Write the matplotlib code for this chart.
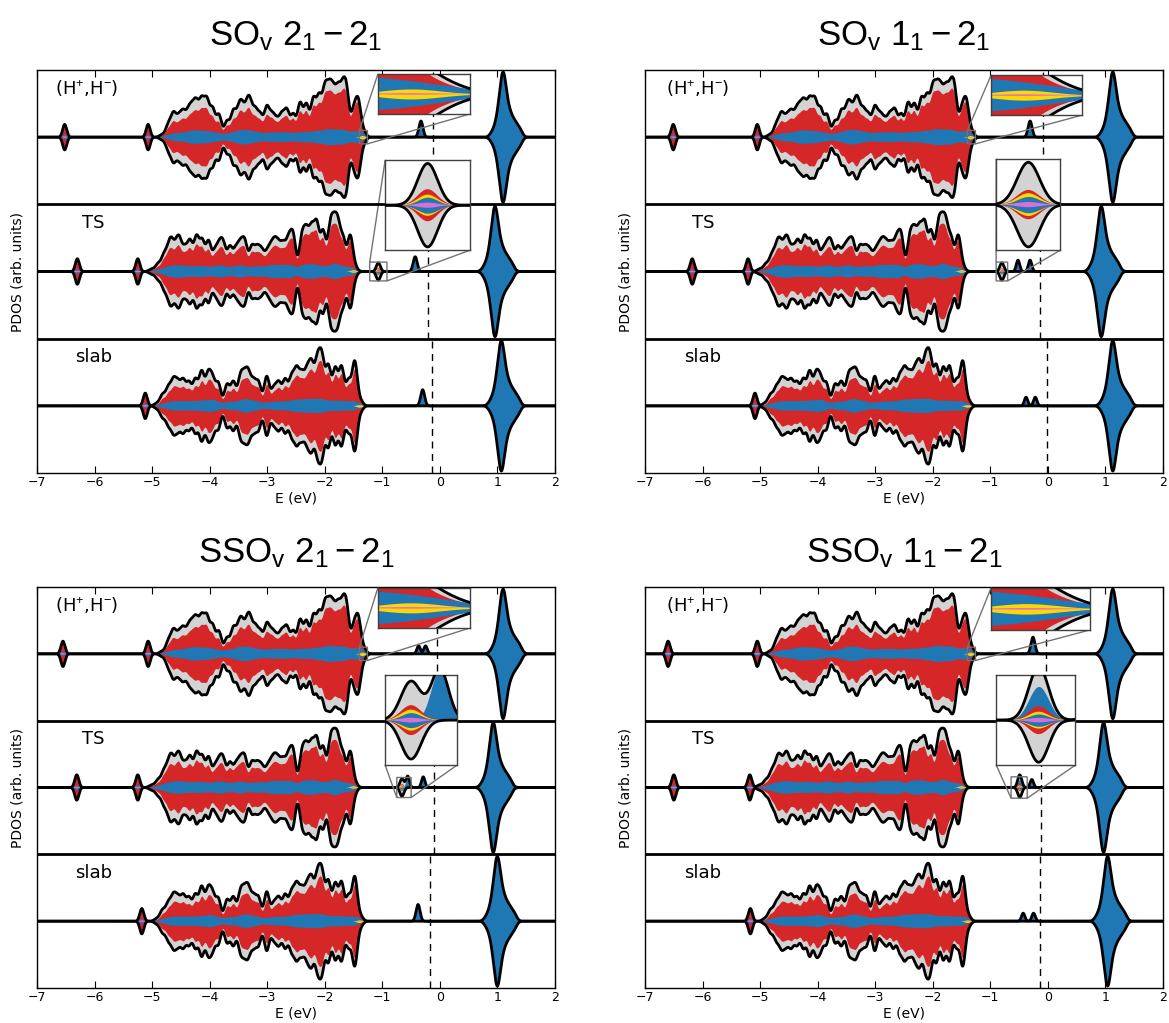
# PDOS comparison, SO_v / SSO_v, (H+,H-) vs TS vs slab
import numpy as np
import matplotlib.pyplot as plt

plt.rcParams['mathtext.fontset'] = 'custom'
plt.rcParams['mathtext.rm'] = 'Liberation Sans'
plt.rcParams['mathtext.it'] = 'Liberation Sans:italic'
plt.rcParams['mathtext.bf'] = 'Liberation Sans:bold'

# ---------------- data ----------------
titles = [r'SO$_\mathrm{v}$ $2_1-2_1$', r'SO$_\mathrm{v}$ $1_1-2_1$',
          r'SSO$_\mathrm{v}$ $2_1-2_1$', r'SSO$_\mathrm{v}$ $1_1-2_1$']
row_labels = [r'(H$^{+}$,H$^{-}$)', 'TS', 'slab']
row_label_x = [[-6.69, -6.22, -6.34], [-6.64, -6.18, -6.32],
               [-6.69, -6.22, -6.34], [-6.64, -6.18, -6.32]]

# valence band: level energies (eV) and weights, one list per row (H, TS, slab)
band_E = [
    [-4.83, -4.72, -4.63, -4.54, -4.46, -4.37, -4.30, -4.23, -4.14, -4.05,
     -3.95, -3.84, -3.70, -3.59, -3.50, -3.44, -3.36, -3.30, -3.21, -3.12,
     -3.01, -2.92, -2.84, -2.75, -2.66, -2.55, -2.43, -2.32, -2.20, -2.10,
     -2.00, -1.92, -1.85, -1.77, -1.69, -1.62, -1.50, -1.42, -1.33],
    [-5.01, -4.90, -4.80, -4.72, -4.66, -4.58, -4.52, -4.43, -4.34, -4.23,
     -4.13, -4.02, -3.91, -3.83, -3.76, -3.65, -3.55, -3.47, -3.39, -3.27,
     -3.18, -3.10, -3.01, -2.94, -2.87, -2.80, -2.72, -2.63, -2.55, -2.40,
     -2.32, -2.23, -2.14, -2.03, -1.91, -1.84, -1.77, -1.68, -1.56, -1.48],
    [-4.92, -4.82, -4.72, -4.63, -4.55, -4.46, -4.36, -4.25, -4.14, -4.03,
     -3.95, -3.85, -3.70, -3.59, -3.47, -3.40, -3.33, -3.24, -3.15, -3.01,
     -2.89, -2.80, -2.69, -2.58, -2.49, -2.40, -2.31, -2.23, -2.13, -2.05,
     -1.94, -1.82, -1.71, -1.59, -1.48, -1.38],
]
band_grey = [
    [0.05, 0.25, 0.45, 0.35, 0.45, 0.45, 0.45, 0.58, 0.68, 0.70,
     0.55, 0.45, 0.32, 0.50, 0.42, 0.50, 0.45, 0.58, 0.50, 0.42,
     0.58, 0.40, 0.30, 0.42, 0.52, 0.45, 0.68, 0.65, 0.75, 0.78,
     0.90, 0.80, 0.72, 0.82, 0.80, 0.84, 0.50, 0.70, 0.12],
    [0.05, 0.15, 0.30, 0.35, 0.48, 0.40, 0.50, 0.42, 0.58, 0.68,
     0.60, 0.60, 0.38, 0.45, 0.48, 0.48, 0.40, 0.48, 0.57, 0.48,
     0.42, 0.38, 0.30, 0.38, 0.48, 0.42, 0.48, 0.58, 0.70, 0.66,
     0.73, 0.80, 0.92, 0.80, 0.80, 0.75, 0.82, 0.62, 0.72, 0.10],
    [0.05, 0.22, 0.35, 0.47, 0.40, 0.48, 0.45, 0.52, 0.68, 0.60,
     0.50, 0.45, 0.43, 0.48, 0.52, 0.45, 0.58, 0.45, 0.45, 0.60,
     0.34, 0.45, 0.52, 0.55, 0.68, 0.58, 0.62, 0.77, 0.85, 0.92,
     0.80, 0.75, 0.78, 0.50, 0.90, 0.10],
]
band_red = [
    [0.03, 0.15, 0.28, 0.22, 0.30, 0.30, 0.30, 0.40, 0.48, 0.50,
     0.38, 0.30, 0.22, 0.32, 0.30, 0.35, 0.32, 0.40, 0.35, 0.30,
     0.40, 0.30, 0.22, 0.30, 0.38, 0.35, 0.50, 0.50, 0.58, 0.60,
     0.72, 0.64, 0.58, 0.66, 0.64, 0.68, 0.42, 0.60, 0.08],
    [0.03, 0.08, 0.20, 0.25, 0.32, 0.28, 0.36, 0.30, 0.42, 0.50,
     0.45, 0.42, 0.28, 0.32, 0.35, 0.36, 0.30, 0.35, 0.42, 0.35,
     0.30, 0.28, 0.22, 0.28, 0.35, 0.32, 0.36, 0.45, 0.55, 0.52,
     0.58, 0.64, 0.72, 0.64, 0.64, 0.60, 0.66, 0.52, 0.60, 0.07],
    [0.03, 0.14, 0.24, 0.32, 0.28, 0.34, 0.32, 0.38, 0.48, 0.44,
     0.36, 0.32, 0.30, 0.34, 0.38, 0.33, 0.42, 0.33, 0.33, 0.44,
     0.25, 0.33, 0.38, 0.42, 0.52, 0.45, 0.48, 0.60, 0.66, 0.72,
     0.64, 0.60, 0.62, 0.40, 0.74, 0.07],
]
band_blue = [
    [0.01, 0.05, 0.08, 0.08, 0.09, 0.10, 0.11, 0.12, 0.13, 0.13,
     0.12, 0.11, 0.10, 0.11, 0.11, 0.12, 0.11, 0.12, 0.11, 0.10,
     0.10, 0.09, 0.09, 0.10, 0.11, 0.11, 0.13, 0.13, 0.14, 0.14,
     0.15, 0.14, 0.13, 0.13, 0.13, 0.13, 0.12, 0.12, 0.09],
    [0.01, 0.04, 0.07, 0.08, 0.09, 0.10, 0.11, 0.11, 0.12, 0.13,
     0.13, 0.12, 0.11, 0.11, 0.11, 0.11, 0.10, 0.11, 0.12, 0.11,
     0.10, 0.10, 0.09, 0.10, 0.11, 0.11, 0.12, 0.13, 0.14, 0.14,
     0.14, 0.15, 0.15, 0.14, 0.13, 0.13, 0.13, 0.12, 0.12, 0.05],
    [0.01, 0.05, 0.08, 0.09, 0.09, 0.10, 0.11, 0.12, 0.13, 0.13,
     0.12, 0.11, 0.10, 0.11, 0.11, 0.11, 0.12, 0.11, 0.10, 0.10,
     0.09, 0.10, 0.11, 0.12, 0.13, 0.13, 0.13, 0.14, 0.14, 0.15,
     0.14, 0.13, 0.13, 0.12, 0.12, 0.05],
]
# small H-like contributions at the top of the band (seen in the zoom)
tail_E = [-1.35, -1.50, -1.40]
tail_yellow = [0.025, 0.02, 0.02]
tail_pink = [0.004, 0.004, 0.004]

# conduction band peak shape (offset from centre, weight)
cb_offsets = [-0.18, -0.10, -0.04, 0.0, 0.05, 0.12, 0.20, 0.28]
cb_heights = [0.07, 0.18, 0.30, 0.55, 0.27, 0.24, 0.16, 0.11]
cb_center = [[1.10, 0.96, 1.07], [1.13, 0.93, 1.13],
             [1.10, 0.93, 1.00], [1.13, 0.97, 1.04]]

# Fermi level per row (dashed)
e_fermi = [[-0.12, -0.20, -0.13], [-0.09, -0.14, -0.02],
           [-0.05, -0.10, -0.17], [-0.03, -0.12, -0.14]]

# localized states: row, E, width, grey, blue_o, red, blue, yellow, blue_in, pink, both spins
peaks_sov_21 = [
    (0, -6.52, .035, .19, 0, .175, .035, 0, 0, .012, 1),
    (0, -5.07, .035, .19, 0, .175, .035, 0, 0, .012, 1),
    (0, -0.33, .035, .24, 0, 0, .24, 0, 0, 0, 0),
    (1, -6.30, .035, .19, 0, .175, .035, 0, 0, .012, 1),
    (1, -5.25, .035, .19, 0, .175, .035, 0, 0, .012, 1),
    (1, -1.07, .035, .13, 0, .05, 0, .033, .025, .008, 1),
    (1, -0.43, .035, .22, 0, 0, .22, 0, 0, 0, 0),
    (2, -5.12, .035, .19, 0, .175, .035, 0, 0, .012, 1),
    (2, -0.30, .035, .24, 0, 0, .24, 0, 0, 0, 0),
]
peaks_sov_11 = [
    (0, -6.51, .035, .19, 0, .175, .035, 0, 0, .012, 1),
    (0, -5.05, .035, .19, 0, .175, .035, 0, 0, .012, 1),
    (0, -0.31, .035, .24, 0, 0, .24, 0, 0, 0, 0),
    (1, -6.18, .035, .19, 0, .175, .035, 0, 0, .012, 1),
    (1, -5.21, .035, .19, 0, .175, .035, 0, 0, .012, 1),
    (1, -0.80, .035, .13, 0, .045, 0, .035, .025, .008, 1),
    (1, -0.52, .03, .17, 0, 0, .17, 0, 0, 0, 0),
    (1, -0.31, .03, .17, 0, 0, .17, 0, 0, 0, 0),
    (2, -5.09, .035, .19, 0, .175, .035, 0, 0, .012, 1),
    (2, -0.38, .03, .13, 0, 0, .13, 0, 0, 0, 0),
    (2, -0.22, .03, .13, 0, 0, .13, 0, 0, 0, 0),
]
peaks_ssov_21 = [
    (0, -6.55, .035, .19, 0, .175, .035, 0, 0, .012, 1),
    (0, -5.07, .035, .19, 0, .175, .035, 0, 0, .012, 1),
    (0, -0.37, .03, .12, 0, 0, .12, 0, 0, 0, 0),
    (0, -0.25, .03, .12, 0, 0, .12, 0, 0, 0, 0),
    (1, -6.31, .035, .19, 0, .175, .035, 0, 0, .012, 1),
    (1, -5.25, .035, .19, 0, .175, .035, 0, 0, .012, 1),
    (1, -0.66, .035, .13, 0, .05, 0, .035, .025, .008, 1),
    (1, -0.56, .03, .17, .17, 0, 0, 0, 0, 0, 0),
    (1, -0.29, .03, .16, 0, 0, .16, 0, 0, 0, 0),
    (2, -5.18, .035, .19, 0, .175, .035, 0, 0, .012, 1),
    (2, -0.38, .035, .25, 0, 0, .25, 0, 0, 0, 0),
]
peaks_ssov_11 = [
    (0, -6.60, .035, .19, 0, .175, .035, 0, 0, .012, 1),
    (0, -5.05, .035, .19, 0, .175, .035, 0, 0, .012, 1),
    (0, -0.26, .035, .25, 0, 0, .25, 0, 0, 0, 0),
    (1, -6.50, .035, .19, 0, .175, .035, 0, 0, .012, 1),
    (1, -5.18, .035, .19, 0, .175, .035, 0, 0, .012, 1),
    (1, -0.49, .035, .15, 0, .05, 0, .03, .022, .008, 1),
    (1, -0.49, .035, .04, .12, 0, 0, 0, 0, 0, 0),
    (1, -0.28, .03, .12, 0, 0, .12, 0, 0, 0, 0),
    (2, -5.17, .035, .19, 0, .175, .035, 0, 0, .012, 1),
    (2, -0.43, .03, .12, 0, 0, .12, 0, 0, 0, 0),
    (2, -0.25, .03, .12, 0, 0, .12, 0, 0, 0, 0),
]
panel_peaks = [peaks_sov_21, peaks_sov_11, peaks_ssov_21, peaks_ssov_11]

# inset zoom windows (E range of the two zooms) and their placement in the axes
inset1_xlim = [(-1.40, -1.26)] * 4
inset2_xlim = [(-1.22, -0.92), (-0.90, -0.70), (-0.75, -0.50), (-0.64, -0.36)]
inset2_half = [0.14, 0.14, 0.15, 0.16]
inset1_box = [[0.658, 0.891, 0.178, 0.099], [0.668, 0.888, 0.176, 0.099],
              [0.658, 0.898, 0.178, 0.100], [0.668, 0.893, 0.191, 0.105]]
inset2_box = [[0.672, 0.553, 0.164, 0.223], [0.678, 0.553, 0.124, 0.226],
              [0.672, 0.556, 0.139, 0.224], [0.678, 0.556, 0.153, 0.224]]

# ---------------- drawing helpers ----------------
energy = np.linspace(-7, 2, 4500)
layers = ['grey', 'blue_o', 'red', 'blue', 'yellow', 'blue_in', 'pink']
layer_colors = ['lightgrey', '#1f77b4', '#d62728', '#1f77b4', 'gold', '#1f77b4', 'orchid']
band_width = 0.045
band_scale = 0.72
blue_width = 0.07
blue_scale = 0.38
cb_width = 0.05
row_centers = [2, 0, -2]


def gauss(center, height, width):
    return height * np.exp(-0.5 * ((energy - center) / width) ** 2)


def row_curves(p, r):
    up = {k: np.zeros_like(energy) for k in layers}
    dn = {k: np.zeros_like(energy) for k in layers}
    for e, g, rd, b in zip(band_E[r], band_grey[r], band_red[r], band_blue[r]):
        for d in (up, dn):
            d['grey'] += band_scale * gauss(e, g, band_width)
            d['red'] += band_scale * gauss(e, rd, band_width)
            d['blue'] += blue_scale * gauss(e, b, blue_width)
    for d in (up, dn):
        d['yellow'] += gauss(tail_E[r], tail_yellow[r], band_width)
        d['pink'] += gauss(tail_E[r], tail_pink[r], band_width)
        for off, h in zip(cb_offsets, cb_heights):
            d['grey'] += gauss(cb_center[p][r] + off, h, cb_width)
            d['blue'] += gauss(cb_center[p][r] + off, h, cb_width)
    for pk in panel_peaks[p]:
        if pk[0] != r:
            continue
        e, w = pk[1], pk[2]
        vals = pk[3:10]
        targets = (up, dn) if pk[10] else (up,)
        for d in targets:
            for k, v in zip(layers, vals):
                if v:
                    d[k] += gauss(e, v, w)
    return up, dn


def draw_panel(ax, p, curves):
    for r, yc in enumerate(row_centers):
        up, dn = curves[r]
        for k, c in zip(layers, layer_colors):
            m = (up[k] + dn[k]) > 1e-4
            if m.any():
                ax.fill_between(energy, yc - dn[k], yc + up[k], where=m,
                                color=c, lw=0, zorder=2)
        ax.plot(energy, yc + up['grey'], color='k', lw=2, zorder=3)
        ax.plot(energy, yc - dn['grey'], color='k', lw=2, zorder=3)
        ax.plot([e_fermi[p][r]] * 2, [yc - 1, yc + 1], color='k', lw=1,
                ls=(0, (5, 4)), zorder=4)
    for ys in (1, -1):
        ax.axhline(ys, color='k', lw=2, zorder=5)


# ---------------- figure ----------------
fig = plt.figure(figsize=(11.69, 10.23), dpi=100)
axes_pos = [[0.0317, 0.5376, 0.4431, 0.394], [0.5518, 0.5376, 0.4431, 0.394],
            [0.0317, 0.0342, 0.4431, 0.392], [0.5518, 0.0342, 0.4431, 0.392]]

for p in range(4):
    ax = fig.add_axes(axes_pos[p])
    curves = [row_curves(p, r) for r in range(3)]
    draw_panel(ax, p, curves)
    ax.set_xlim(-7, 2)
    ax.set_ylim(-3, 3)
    ax.set_xticks(range(-7, 3))
    ax.set_yticks([])
    ax.tick_params(direction='in', top=True, length=5, labelsize=9, pad=2)
    for s in ax.spines.values():
        s.set_linewidth(1)
    ax.set_xlabel('E (eV)', fontsize=10, labelpad=2)
    ax.set_ylabel('PDOS (arb. units)', fontsize=10, labelpad=9)
    ax.set_title(titles[p], fontsize=25, pad=18, family='Liberation Sans')
    for r, yc in enumerate(row_centers):
        ax.text(row_label_x[p][r], yc + 0.72, row_labels[r], fontsize=13,
                va='center', ha='left', zorder=6)

    # zoom on top of the valence band (H row)
    ins1 = ax.inset_axes(inset1_box[p])
    draw_panel(ins1, p, curves)
    ins1.set_xlim(*inset1_xlim[p])
    ins1.set_ylim(2 - 0.1, 2 + 0.1)
    # zoom on the gap state (TS row)
    ins2 = ax.inset_axes(inset2_box[p])
    draw_panel(ins2, p, curves)
    ins2.set_xlim(*inset2_xlim[p])
    ins2.set_ylim(-inset2_half[p], inset2_half[p])
    for ins in (ins1, ins2):
        ins.set_xticks([])
        ins.set_yticks([])
        for s in ins.spines.values():
            s.set_linewidth(1)
            s.set_edgecolor('0.25')
        ax.indicate_inset_zoom(ins, edgecolor='0.45', alpha=1, lw=1)

fig.savefig('out.png', dpi=100)
